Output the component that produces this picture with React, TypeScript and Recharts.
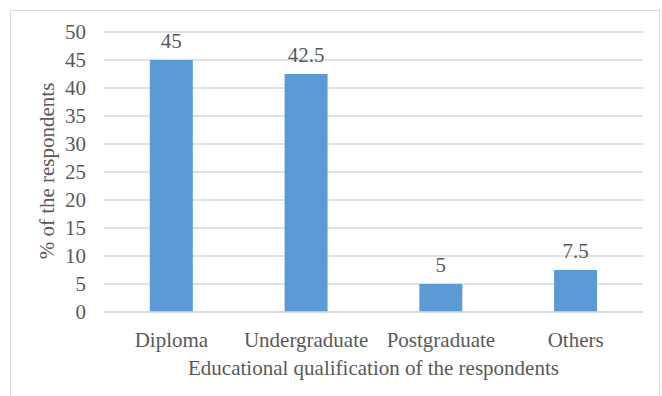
import { BarChart, Bar, XAxis, YAxis, CartesianGrid, LabelList, Label } from "recharts";

const categories = ["Diploma", "Undergraduate", "Postgraduate", "Others"];
const percentages = [45, 42.5, 5, 7.5];
const yTicks = [0, 5, 10, 15, 20, 25, 30, 35, 40, 45, 50];

const FONT = '"Liberation Serif", "Times New Roman", serif';
const TEXT = "#595959";
const GRID = "#d9d9d9";
const BAR = "#5b9bd5";

const data = categories.map((name, i) => ({ name, value: percentages[i] }));

const XTitle = (props: any) => {
  const { viewBox } = props;
  return (
    <text
      x={viewBox.x + viewBox.width / 2}
      y={viewBox.y + 63}
      textAnchor="middle"
      fill={TEXT}
      fontSize={21}
      fontFamily={FONT}
    >
      Educational qualification of the respondents
    </text>
  );
};

const YTitle = (props: any) => {
  const { viewBox } = props;
  const cx = 47;
  const cy = viewBox.y + viewBox.height / 2 - 1;
  return (
    <text
      x={cx}
      y={cy}
      transform={`rotate(-90, ${cx}, ${cy})`}
      textAnchor="middle"
      dominantBaseline="central"
      fill={TEXT}
      fontSize={21}
      fontFamily={FONT}
    >
      % of the respondents
    </text>
  );
};

const App = () => {
  return (
    <div style={{ position: "absolute", left: 0, top: 0, width: 662, height: 396, background: "#fff", overflow: "hidden" }}>
      <div
        style={{
          position: "absolute",
          left: 10,
          top: 10,
          width: 650,
          height: 400,
          border: `1px solid ${GRID}`,
          boxSizing: "border-box",
        }}
      />
      <BarChart
        width={662}
        height={396}
        data={data}
        margin={{ top: 32, right: 19, bottom: 24, left: 44 }}
        barCategoryGap="34%"
        style={{ position: "absolute", left: 0, top: 0, fontFamily: FONT }}
      >
        <CartesianGrid vertical={false} stroke={GRID} strokeWidth={1.5} />
        <XAxis
          dataKey="name"
          height={60}
          axisLine={{ stroke: GRID, strokeWidth: 1.5 }}
          tickLine={false}
          tickMargin={14}
          tick={{ fill: TEXT, fontSize: 21, fontFamily: FONT }}
          interval={0}
        >
          <Label content={<XTitle />} />
        </XAxis>
        <YAxis
          width={60}
          domain={[0, 50]}
          ticks={yTicks}
          interval={0}
          axisLine={false}
          tickLine={false}
          tickMargin={12}
          tick={{ fill: TEXT, fontSize: 21, fontFamily: FONT }}
        >
          <Label content={<YTitle />} />
        </YAxis>
        <Bar dataKey="value" fill={BAR} isAnimationActive={false}>
          <LabelList dataKey="value" position="top" offset={12} fill={TEXT} fontSize={21} fontFamily={FONT} />
        </Bar>
      </BarChart>
    </div>
  );
};

export default App;
